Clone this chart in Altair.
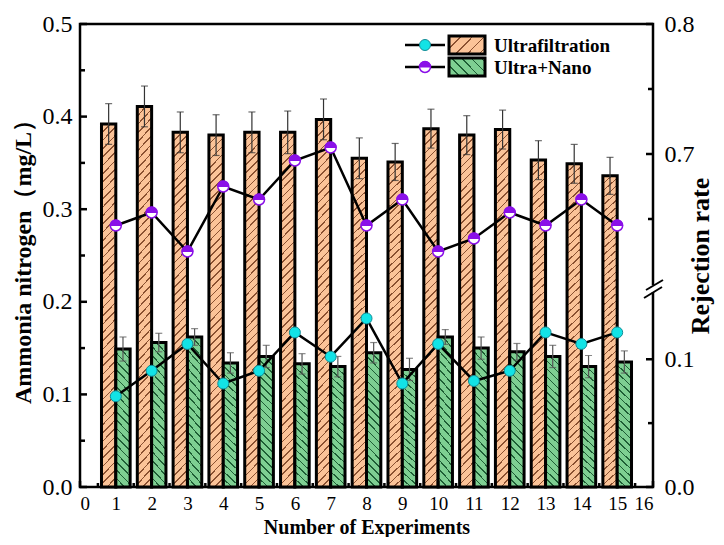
import altair as alt
import pandas as pd

# ---------------- data ----------------
exps = list(range(1, 16))
uf_vals = [0.392, 0.411, 0.383, 0.380, 0.383, 0.383, 0.397, 0.355, 0.351, 0.387, 0.380, 0.386, 0.353, 0.349, 0.336]
uf_errs = [0.022, 0.022, 0.022, 0.022, 0.022, 0.023, 0.022, 0.022, 0.020, 0.021, 0.021, 0.021, 0.021, 0.021, 0.020]
un_vals = [0.149, 0.156, 0.162, 0.134, 0.141, 0.133, 0.130, 0.145, 0.127, 0.162, 0.150, 0.146, 0.141, 0.130, 0.135]
un_errs = [0.013, 0.010, 0.009, 0.011, 0.012, 0.011, 0.011, 0.011, 0.012, 0.008, 0.012, 0.009, 0.012, 0.012, 0.012]
rej_ultra_nano = [0.645, 0.655, 0.625, 0.675, 0.665, 0.695, 0.705, 0.645, 0.665, 0.625, 0.635, 0.655, 0.645, 0.665, 0.645]
rej_ultra = [0.071, 0.091, 0.112, 0.081, 0.091, 0.121, 0.102, 0.132, 0.081, 0.112, 0.083, 0.091, 0.121, 0.112, 0.121]

left_major = [0.0, 0.1, 0.2, 0.3, 0.4, 0.5]
left_minor = [0.05, 0.15, 0.25, 0.35, 0.45]
right_major = [0.0, 0.1, 0.7, 0.8]
right_minor = [0.05, 0.65, 0.75]
x_major = list(range(0, 17))
x_minor = [i + 0.5 for i in range(16)]
legend_labels = ["Ultrafiltration", "Ultra+Nano"]

# ---------------- layout / style ----------------
W, H = 573, 463
FONT = "Liberation Serif"
ORANGE, ORANGE_LINE = "#FBC398", "#8A5030"
GREEN, GREEN_LINE = "#7ECF92", "#1E5E35"
CYAN, CYAN_EDGE = "#12E3E6", "#138C96"
PURPLE = "#8A10E8"

HALF_TOP = "M -1 0 A 1 1 0 0 1 1 0 Z"


def hatch(r, h, p, lw, fill, line, direction):
    s = (1 + r) / (1 + r * r)
    dt = r * p / (h * (1 + r))
    dl = r * lw / (h * (1 + r))
    stops = []
    t = 0.0
    while t < 1:
        a = round(t, 5)
        b = round(min(t + dl, 1), 5)
        c = round(min(t + dt, 1), 5)
        stops += [alt.GradientStop(offset=a, color=line), alt.GradientStop(offset=b, color=line),
                  alt.GradientStop(offset=b, color=fill), alt.GradientStop(offset=c, color=fill)]
        t += dt
    if direction == "/":
        return alt.LinearGradient(gradient="linear", stops=stops, x1=0, y1=0, x2=s, y2=s * r)
    return alt.LinearGradient(gradient="linear", stops=stops, x1=0, y1=1, x2=s, y2=1 - s * r)


bar_w = 0.4 * W / 16
h_or = sum(uf_vals) / len(uf_vals) / 0.5 * H
h_gr = sum(un_vals) / len(un_vals) / 0.5 * H
grad_or = hatch(h_or / bar_w, h_or, 8, 1.6, ORANGE, ORANGE_LINE, "/")
grad_gr = hatch(h_gr / bar_w, h_gr, 8, 1.6, GREEN, GREEN_LINE, "\\")
grad_or_leg = hatch(18 / 37, 18, 12, 1.6, ORANGE, ORANGE_LINE, "/")
grad_gr_leg = hatch(18 / 37, 18, 10, 1.6, GREEN, GREEN_LINE, "\\")

df = pd.DataFrame({"exp": exps, "uf": uf_vals, "uf_err": uf_errs, "un": un_vals, "un_err": un_errs,
                   "pur": rej_ultra_nano, "cy": rej_ultra})

xs = alt.Scale(domain=[0, 16], nice=False, zero=False)
xaxis = alt.Axis(values=x_major, format="d", ticks=False, domain=False, grid=False, labelPadding=7,
                 labelFontSize=19, title="Number of Experiments", titleFontSize=20,
                 titleX=W / 2, titleY=40, titleBaseline="middle", titleAlign="center")
ys_l = alt.Scale(domain=[0, 0.5], nice=False, zero=False)
yaxis_l = alt.Axis(values=left_major, format=".1f", ticks=False, domain=False, grid=False, labelPadding=8,
                   labelFontSize=24, title="Ammonia nitrogen（mg/L）", titleFontSize=24,
                   titleX=-57, titleY=H / 2, titleBaseline="middle", titleAlign="center", titleAngle=270)
ys_r = alt.Scale(domain=[0, 0.155, 0.6, 0.8], range=[H, 265, 260, 0], nice=False, zero=False)
yaxis_r = alt.Axis(values=right_major, format=".1f", ticks=False, domain=False, grid=False, labelPadding=11,
                   labelFontSize=24, orient="right", title="Rejection rate", titleFontSize=26,
                   titleX=47, titleY=H / 2, titleBaseline="middle", titleAlign="center", titleAngle=270)


def X(f):
    return alt.X(f, scale=xs, axis=xaxis)


def YL(f):
    return alt.Y(f, scale=ys_l, axis=yaxis_l)


def YR(f):
    return alt.Y(f, scale=ys_r, axis=yaxis_r)


base = alt.Chart(df)

bars_or = base.transform_calculate(x0="datum.exp - 0.4").mark_rect(
    fill=grad_or, stroke="black", strokeWidth=3).encode(
    x=X("x0:Q"), x2="exp:Q", y=YL("uf:Q"), y2=alt.datum(0))
bars_gr = base.transform_calculate(x1="datum.exp + 0.4").mark_rect(
    fill=grad_gr, stroke="black", strokeWidth=3).encode(
    x=X("exp:Q"), x2="x1:Q", y=YL("un:Q"), y2=alt.datum(0))

err_or = base.transform_calculate(xc="datum.exp - 0.2", lo="datum.uf - datum.uf_err",
                                  hi="datum.uf + datum.uf_err")
err_gr = base.transform_calculate(xc="datum.exp + 0.2", lo="datum.un - datum.un_err",
                                  hi="datum.un + datum.un_err")
err_layers = []
for e, col in ((err_or, "#333333"), (err_gr, "#555555")):
    err_layers.append(e.mark_rule(color=col, strokeWidth=1.2).encode(x=X("xc:Q"), y=YL("lo:Q"), y2="hi:Q"))
    err_layers.append(e.transform_fold(["lo", "hi"]).mark_tick(
        orient="horizontal", size=7, thickness=1.2, color=col).encode(x=X("xc:Q"), y=YL("value:Q")))

lt_major = alt.Chart(pd.DataFrame({"v": left_major})).mark_rule(color="black", strokeWidth=2.5).encode(
    y=YL("v:Q"), x=alt.value(0), x2=alt.value(7))
lt_minor = alt.Chart(pd.DataFrame({"v": left_minor})).mark_rule(color="black", strokeWidth=2.5).encode(
    y=YL("v:Q"), x=alt.value(0), x2=alt.value(5))
xt_major = alt.Chart(pd.DataFrame({"v": x_major})).mark_rule(color="black", strokeWidth=2.5).encode(
    x=X("v:Q"), y=alt.value(H), y2=alt.value(H - 6))
xt_minor = alt.Chart(pd.DataFrame({"v": x_minor})).mark_rule(color="black", strokeWidth=2.5).encode(
    x=X("v:Q"), y=alt.value(H), y2=alt.value(H - 4))

left_layer = alt.layer(bars_or, bars_gr, *err_layers, lt_major, lt_minor, xt_major, xt_minor)

line_pur = base.mark_line(color="black", strokeWidth=2.5).encode(x=X("exp:Q"), y=YR("pur:Q"))
line_cy = base.mark_line(color="black", strokeWidth=2.5).encode(x=X("exp:Q"), y=YR("cy:Q"))
pts_cy = base.mark_point(shape="circle", size=121, filled=True, fill=CYAN, stroke=CYAN_EDGE,
                         strokeWidth=1, opacity=1).encode(x=X("exp:Q"), y=YR("cy:Q"))
pts_pur_bg = base.mark_point(shape="circle", size=121, filled=True, fill="white", stroke=PURPLE,
                             strokeWidth=1.5, opacity=1).encode(x=X("exp:Q"), y=YR("pur:Q"))
pts_pur_top = base.mark_point(shape=HALF_TOP, size=121, filled=True, fill=PURPLE, stroke=PURPLE,
                              strokeWidth=1, opacity=1).encode(x=X("exp:Q"), y=YR("pur:Q"))
rt_major = alt.Chart(pd.DataFrame({"v": right_major})).mark_rule(color="black", strokeWidth=2.5).encode(
    y=YR("v:Q"), x=alt.value(W - 7), x2=alt.value(W))
rt_minor = alt.Chart(pd.DataFrame({"v": right_minor})).mark_rule(color="black", strokeWidth=2.5).encode(
    y=YR("v:Q"), x=alt.value(W - 5), x2=alt.value(W))

right_layer = alt.layer(line_pur, line_cy, pts_cy, pts_pur_bg, pts_pur_top, rt_major, rt_minor)

# axis break marker on the right axis
one = alt.Chart(pd.DataFrame({"k": [0]}))
brk_white = one.mark_rule(color="white", strokeWidth=5).encode(
    x=alt.value(W), y=alt.value(261), y2=alt.value(268))
brk_a = one.mark_rule(color="black", strokeWidth=2).encode(
    x=alt.value(W - 7), x2=alt.value(W + 10), y=alt.value(266), y2=alt.value(256))
brk_b = one.mark_rule(color="black", strokeWidth=2).encode(
    x=alt.value(W - 9), x2=alt.value(W + 9), y=alt.value(274), y2=alt.value(263))

# legend
leg = []
for i, (lab, grad) in enumerate(zip(legend_labels, [grad_or_leg, grad_gr_leg])):
    yc = 21 + 22 * i
    leg.append(one.mark_rule(color="black", strokeWidth=2.5).encode(
        x=alt.value(325), x2=alt.value(365), y=alt.value(yc)))
    leg.append(one.mark_rect(fill=grad, stroke="black", strokeWidth=3).encode(
        x=alt.value(369), x2=alt.value(405), y=alt.value(yc - 9), y2=alt.value(yc + 9)))
    leg.append(one.mark_text(text=lab, font=FONT, fontWeight="bold", fontSize=19, align="left",
                             baseline="middle", color="black").encode(x=alt.value(414), y=alt.value(yc + 1)))
leg.append(one.mark_point(shape="circle", size=121, filled=True, fill=CYAN, stroke=CYAN_EDGE,
                          strokeWidth=1, opacity=1).encode(x=alt.value(345), y=alt.value(21)))
leg.append(one.mark_point(shape="circle", size=121, filled=True, fill="white", stroke=PURPLE,
                          strokeWidth=1.5, opacity=1).encode(x=alt.value(345), y=alt.value(43)))
leg.append(one.mark_point(shape=HALF_TOP, size=121, filled=True, fill=PURPLE, stroke=PURPLE,
                          strokeWidth=1, opacity=1).encode(x=alt.value(345), y=alt.value(43)))

chart = alt.layer(left_layer, right_layer, brk_white, brk_a, brk_b, *leg).resolve_scale(
    y="independent").properties(
    width=W, height=H, autosize="none",
    padding={"left": 72, "top": 16, "right": 63, "bottom": 50},
    background="white",
).configure_view(stroke="black", strokeWidth=2.5).configure_axis(
    labelFont=FONT, titleFont=FONT, titleFontWeight="bold",
    labelColor="black", titleColor="black")

chart.save("out.html", embed_options={"renderer": "svg", "actions": False})
